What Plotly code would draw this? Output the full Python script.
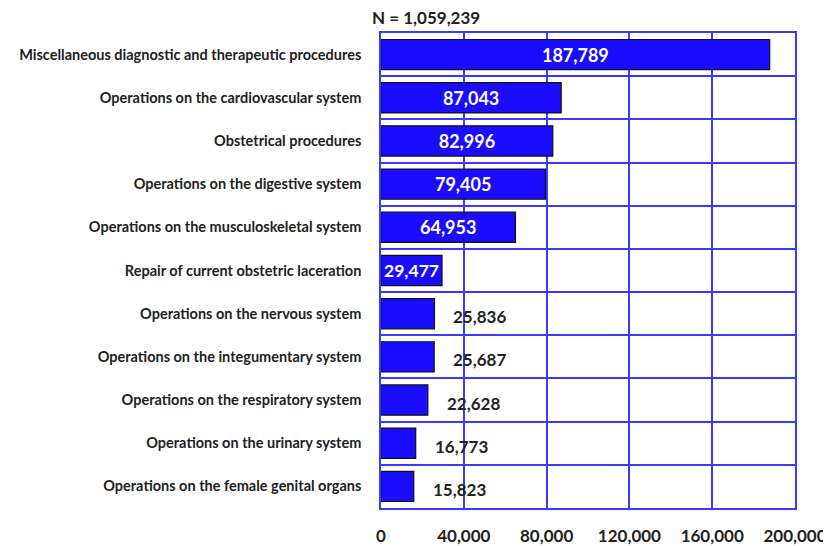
import plotly.graph_objects as go

categories = [
    "Miscellaneous diagnostic and therapeutic procedures",
    "Operations on the cardiovascular system",
    "Obstetrical procedures",
    "Operations on the digestive system",
    "Operations on the musculoskeletal system",
    "Repair of current obstetric laceration",
    "Operations on the nervous system",
    "Operations on the integumentary system",
    "Operations on the respiratory system",
    "Operations on the urinary system",
    "Operations on the female genital organs",
]
values = [187789, 87043, 82996, 79405, 64953, 29477, 25836, 25687, 22628, 16773, 15823]
tick_vals = [0, 40000, 80000, 120000, 160000, 200000]
tick_text = ["0", "40,000", "80,000", "120,000", "160,000", "200,000"]
title_text = "N = 1,059,239"
inside_threshold = 29000

inside_text = [f"{v:,}" if v >= inside_threshold else "" for v in values]
FONT = "Lato"
DARK = "#222222"

fig = go.Figure()
fig.add_trace(go.Bar(
    x=values, y=categories, orientation="h",
    marker=dict(color="#1a0dff", line=dict(color="#111111", width=1.2)),
    width=0.7,
    text=inside_text, textposition="inside", insidetextanchor="middle",
    textfont=dict(family=FONT, size=18, color="white", weight="bold"),
    cliponaxis=False,
))

for c, v in zip(categories, values):
    if v < inside_threshold:
        fig.add_annotation(x=v, y=c, text=f"{v:,}", xanchor="left", xshift=17, yshift=-3,
                           showarrow=False,
                           font=dict(family=FONT, size=17, color=DARK, weight="bold"))

fig.add_annotation(xref="paper", yref="paper", x=-0.027, y=1.0, yshift=3, xanchor="left",
                   yanchor="bottom", text=title_text, showarrow=False,
                   font=dict(family=FONT, size=17, color=DARK, weight="bold"))

fig.update_xaxes(range=[0, 200000], tickvals=tick_vals, ticktext=tick_text,
                 showgrid=True, gridcolor="#3a3aff", gridwidth=1.5,
                 showline=True, linecolor="#3a3aff", linewidth=1.5, mirror=True,
                 zeroline=False, ticklabelstandoff=12, automargin=False,
                 tickfont=dict(family=FONT, size=17, color=DARK, weight="bold"))
fig.update_yaxes(autorange="reversed", tickson="boundaries", showgrid=True,
                 gridcolor="#3a3aff", gridwidth=1.5, ticks="",
                 showline=True, linecolor="#3a3aff", linewidth=1.5, mirror=True,
                 ticklabelstandoff=15, automargin=False,
                 tickfont=dict(family=FONT, size=14.5, color=DARK, weight="bold"))

fig.update_layout(width=823, height=538, margin=dict(l=373, r=36, t=25, b=38),
                  plot_bgcolor="white", paper_bgcolor="white", showlegend=False,
                  bargap=0.3)

fig.write_html("out.html")
